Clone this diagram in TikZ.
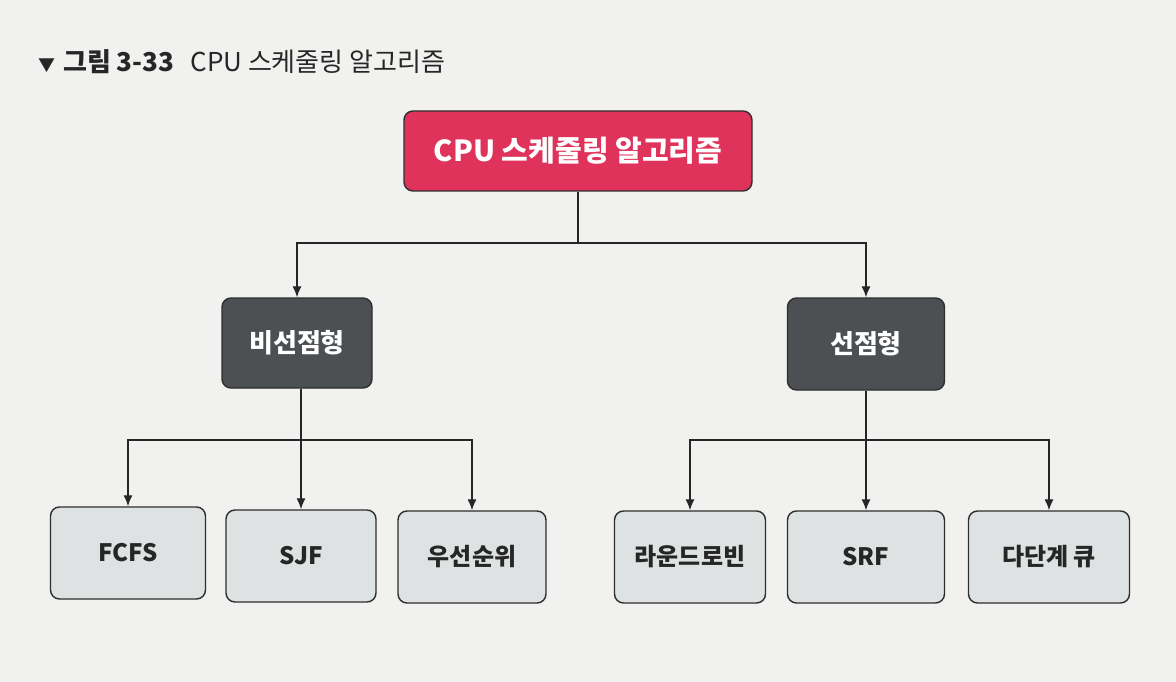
\documentclass[tikz,border=0pt]{standalone}
\usepackage{fontspec}
\setmainfont{Noto Sans CJK KR}
\usetikzlibrary{arrows.meta}

\definecolor{pagegray}{HTML}{F1F1EF}
\definecolor{rootred}{HTML}{E0335C}
\definecolor{midgray}{HTML}{4C5053}
\definecolor{leafgray}{HTML}{DEE2E2}
\definecolor{edgegray}{HTML}{2E2E2E}

\tikzset{
  box/.style={draw=edgegray, line width=1.4pt, rounded corners=9pt, align=center,
    inner sep=0pt},
  rootbox/.style={box, fill=rootred, text=white, minimum width=348pt, minimum height=80pt,
    font=\fontsize{29}{33}\selectfont\bfseries},
  midbox/.style={box, fill=midgray, text=white, minimum height=90pt,
    font=\fontsize{26}{30}\selectfont\bfseries},
  leafbox/.style={box, fill=leafgray, text=black!85, minimum width=152pt, minimum height=92pt,
    font=\fontsize{24}{28}\selectfont\bfseries},
  link/.style={draw=black!85, line width=1.3pt},
  arr/.style={link, -{Latex[length=11pt,width=9pt]}}
}

\begin{document}
\begin{tikzpicture}[x=1pt,y=-1pt]
  \fill[pagegray] (0,0) rectangle (1176,682);
  \useasboundingbox (0,0) rectangle (1176,682);

  % title
  \node[anchor=base west, text=black!85, inner sep=0pt] (title) at (38,72)
    {\fontsize{26}{30}\selectfont\textbf{\fontsize{17}{20}\selectfont ▼\kern8pt\fontsize{26}{30}\selectfont 그림 3-33}\kern16pt CPU 스케줄링 알고리즘};

  % boxes
  \node[rootbox] (root) at (578,151) {CPU 스케줄링 알고리즘};

  \node[midbox, minimum width=150pt] (nonpre) at (297,343) {비선점형};
  \node[midbox, minimum width=157pt, minimum height=92pt] (pre) at (866,344) {선점형};

  \node[leafbox, minimum width=155pt] (fcfs) at (128,553) {FCFS};
  \node[leafbox, minimum width=150pt] (sjf) at (301,556) {SJF};
  \node[leafbox, minimum width=148pt] (prio) at (472,557) {우선순위};

  \node[leafbox, minimum width=151pt] (rr) at (690,557) {라운드로빈};
  \node[leafbox, minimum width=157pt] (srf) at (866,557) {SRF};
  \node[leafbox, minimum width=161pt] (mlq) at (1049,557) {다단계 큐};

  % connectors
  \coordinate (j0) at (root.south |- 0,243);
  \draw[link] (root.south) -- (j0);
  \draw[arr] (j0) -| (nonpre.north);
  \draw[arr] (j0) -| (pre.north);

  \coordinate (j1) at (sjf.north |- 0,440);
  \draw[link] (nonpre.south -| j1) -- (j1);
  \draw[arr] (j1) -| (fcfs.north);
  \draw[arr] (j1) -- (sjf.north);
  \draw[arr] (j1) -| (prio.north);

  \coordinate (j2) at (pre.south |- 0,440);
  \draw[link] (pre.south) -- (j2);
  \draw[arr] (j2) -| (rr.north);
  \draw[arr] (j2) -- (srf.north);
  \draw[arr] (j2) -| (mlq.north);
\end{tikzpicture}
\end{document}
